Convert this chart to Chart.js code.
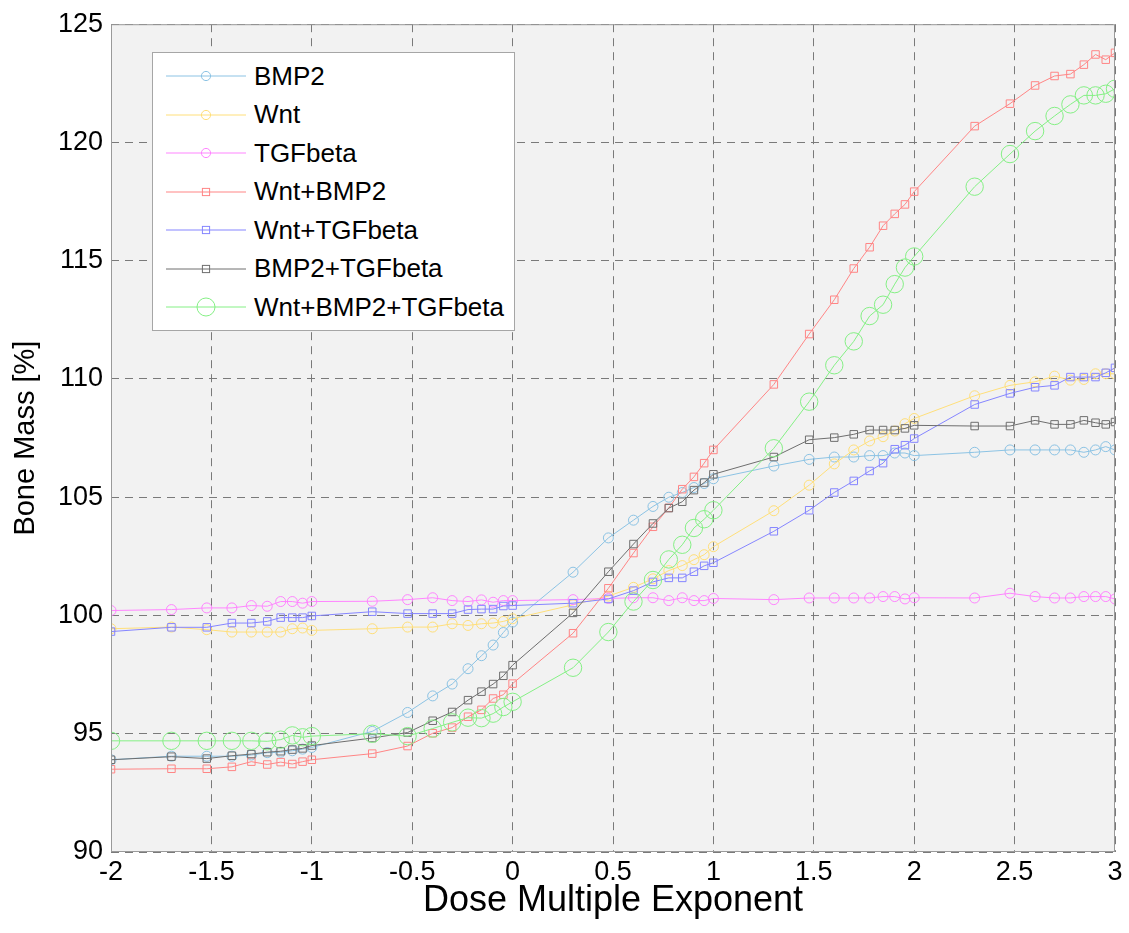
<!DOCTYPE html>
<html><head><meta charset="utf-8">
<script src="https://cdn.jsdelivr.net/npm/chart.js@4.4.1/dist/chart.umd.min.js"></script>
<style>
html,body{margin:0;padding:0;background:#fff;}
#wrap{position:relative;width:1129px;height:933px;}
#legend{position:absolute;left:152px;top:52px;width:363px;height:279px;background:#fff;border:1px solid #a6a6a6;box-sizing:border-box;font-family:"Liberation Sans",Arial,Helvetica,sans-serif;font-size:26px;color:#000;}
.row{position:absolute;left:0;height:38px;display:flex;align-items:center;white-space:nowrap;}
.row svg{display:block;margin-left:13px;margin-right:8px;}
</style></head>
<body><div id="wrap"><canvas id="c" width="1129" height="933"></canvas><div id="legend"></div></div>
<script>
const xExp = [-2, -1.699, -1.523, -1.398, -1.301, -1.222, -1.155, -1.097, -1.046, -1, -0.699, -0.523, -0.398, -0.301, -0.222, -0.155, -0.097, -0.046, 0, 0.301, 0.477, 0.602, 0.699, 0.778, 0.845, 0.903, 0.954, 1, 1.301, 1.477, 1.602, 1.699, 1.778, 1.845, 1.903, 1.954, 2, 2.301, 2.477, 2.602, 2.699, 2.778, 2.845, 2.903, 2.954, 3];

const bmp2 = [93.9, 94.05, 94.05, 94.05, 94.1, 94.2, 94.22, 94.28, 94.35, 94.42, 95.1, 95.9, 96.6, 97.1, 97.75, 98.3, 98.75, 99.28, 99.72, 101.83, 103.28, 104.03, 104.61, 105.0, 105.2, 105.41, 105.58, 105.78, 106.32, 106.6, 106.7, 106.7, 106.76, 106.76, 106.87, 106.87, 106.76, 106.9, 107.0, 107.0, 107.0, 107.0, 106.9, 107.0, 107.14, 107.0];
const wnt = [99.44, 99.51, 99.4, 99.3, 99.3, 99.3, 99.3, 99.44, 99.47, 99.37, 99.44, 99.51, 99.51, 99.65, 99.58, 99.65, 99.68, 99.75, 99.86, 100.45, 100.82, 101.19, 101.55, 101.9, 102.11, 102.36, 102.57, 102.91, 104.43, 105.51, 106.41, 107.0, 107.38, 107.56, 107.8, 108.11, 108.33, 109.29, 109.73, 109.88, 110.12, 109.95, 109.98, 110.22, 110.22, 110.22];
const tgfBeta = [100.21, 100.25, 100.32, 100.32, 100.42, 100.39, 100.59, 100.59, 100.52, 100.59, 100.6, 100.67, 100.75, 100.63, 100.59, 100.66, 100.56, 100.63, 100.63, 100.67, 100.72, 100.75, 100.75, 100.63, 100.75, 100.63, 100.63, 100.72, 100.67, 100.74, 100.74, 100.74, 100.74, 100.8, 100.8, 100.7, 100.75, 100.74, 100.94, 100.8, 100.74, 100.74, 100.8, 100.8, 100.8, 100.7];
const wntBmp2 = [93.5, 93.52, 93.52, 93.6, 93.82, 93.7, 93.8, 93.72, 93.82, 93.9, 94.16, 94.48, 95.02, 95.26, 95.72, 96.01, 96.49, 96.65, 97.12, 99.25, 101.15, 102.64, 103.75, 104.55, 105.34, 105.86, 106.44, 107.0, 109.77, 111.9, 113.35, 114.67, 115.57, 116.48, 116.98, 117.38, 117.92, 120.69, 121.64, 122.41, 122.81, 122.89, 123.29, 123.72, 123.5, 123.79];
const wntTgf = [99.32, 99.5, 99.5, 99.68, 99.68, 99.75, 99.91, 99.91, 99.91, 99.98, 100.16, 100.08, 100.08, 100.08, 100.25, 100.27, 100.27, 100.4, 100.42, 100.52, 100.7, 101.05, 101.42, 101.59, 101.59, 101.85, 102.1, 102.23, 103.56, 104.45, 105.2, 105.69, 106.11, 106.44, 107.03, 107.2, 107.48, 108.92, 109.39, 109.65, 109.73, 110.08, 110.08, 110.08, 110.26, 110.47];
const bmp2Tgf = [93.9, 94.03, 93.95, 94.07, 94.14, 94.22, 94.26, 94.33, 94.38, 94.5, 94.82, 95.05, 95.55, 95.92, 96.42, 96.78, 97.1, 97.45, 97.9, 100.11, 101.85, 103.02, 103.89, 104.54, 104.81, 105.3, 105.62, 105.97, 106.7, 107.43, 107.52, 107.66, 107.84, 107.84, 107.84, 107.91, 108.04, 108.01, 108.01, 108.25, 108.08, 108.08, 108.25, 108.15, 108.08, 108.18];
const wntBmp2Tgf = [94.7, 94.7, 94.7, 94.7, 94.7, 94.68, 94.75, 94.93, 94.85, 94.9, 95.0, 94.9, 95.22, 95.48, 95.68, 95.66, 95.85, 96.13, 96.35, 97.79, 99.3, 100.59, 101.5, 102.37, 102.99, 103.7, 104.07, 104.45, 107.07, 109.04, 110.58, 111.59, 112.66, 113.14, 114.01, 114.71, 115.18, 118.13, 119.51, 120.48, 121.12, 121.61, 121.99, 121.99, 122.06, 122.27];

const seriesNames = ['BMP2', 'Wnt', 'TGFbeta', 'Wnt+BMP2', 'Wnt+TGFbeta', 'BMP2+TGFbeta', 'Wnt+BMP2+TGFbeta'];
const seriesValues = [bmp2, wnt, tgfBeta, wntBmp2, wntTgf, bmp2Tgf, wntBmp2Tgf];
const xTicks = [-2, -1.5, -1, -0.5, 0, 0.5, 1, 1.5, 2, 2.5, 3];
const yTicks = [90, 95, 100, 105, 110, 115, 120, 125];

const colors = ['#8cc3e4', '#ffdf7a', '#ff85ff', '#ff8585', '#8585ff', '#6e6e6e', '#85f085'];
const markers = ['circle', 'circle', 'circle', 'rect', 'rect', 'rect', 'circle'];
const radii = [5, 5, 5, 5.3, 5.3, 5.3, 8.7];

const FONT = "'Liberation Sans', Arial, Helvetica, sans-serif";

const datasets = seriesValues.map((vals, i) => ({
  label: seriesNames[i],
  data: xExp.map((x, j) => ({x: x, y: vals[j]})),
  borderColor: colors[i],
  backgroundColor: 'rgba(0,0,0,0)',
  pointBorderColor: colors[i],
  pointBackgroundColor: 'rgba(0,0,0,0)',
  pointStyle: markers[i],
  pointRadius: radii[i],
  pointBorderWidth: 1,
  borderWidth: 1,
  tension: 0,
  order: seriesValues.length - i
}));

const areaPlugin = {
  id: 'area',
  beforeDraw(chart) {
    const {ctx, chartArea: a} = chart;
    ctx.save();
    ctx.fillStyle = '#f2f2f2';
    ctx.fillRect(a.left, a.top, a.right - a.left, a.bottom - a.top);
    ctx.restore();
  },
  afterDraw(chart) {
    const {ctx, chartArea: a} = chart;
    ctx.save();
    ctx.strokeStyle = '#9a9a9a';
    ctx.lineWidth = 1;
    ctx.strokeRect(a.left + 0.5, a.top + 0.5, a.right - a.left - 1, a.bottom - a.top - 1);
    ctx.restore();
  }
};

new Chart(document.getElementById('c'), {
  type: 'line',
  data: {datasets: datasets},
  plugins: [areaPlugin],
  options: {
    responsive: false,
    animation: false,
    layout: {padding: {top: 22, right: 14, left: 0, bottom: 0}},
    plugins: {legend: {display: false}, tooltip: {enabled: false}},
    scales: {
      x: {
        type: 'linear', min: -2, max: 3,
        afterBuildTicks(s) { s.ticks = xTicks.map(v => ({value: v})); },
        ticks: {callback: v => String(v), color: '#000', font: {family: FONT, size: 27}, padding: 4, maxRotation: 0, autoSkip: false},
        grid: {color: '#7a7a7a', lineWidth: 1, drawTicks: false},
        border: {display: false, dash: [8, 6]},
        title: {display: true, text: 'Dose Multiple Exponent', color: '#000', font: {family: FONT, size: 36}, padding: {top: 0, bottom: 10}},
        afterFit(s) { s.height = 81; }
      },
      y: {
        type: 'linear', min: 90, max: 125,
        afterBuildTicks(s) { s.ticks = yTicks.map(v => ({value: v})); },
        ticks: {callback: v => String(v), color: '#000', font: {family: FONT, size: 27}, padding: 8},
        grid: {color: '#7a7a7a', lineWidth: 1, drawTicks: false},
        border: {display: false, dash: [8, 6]},
        title: {display: true, text: 'Bone Mass [%]', color: '#000', font: {family: FONT, size: 29}, padding: {top: 9, bottom: 0}},
        afterFit(s) { s.width = 111; }
      }
    }
  }
});

// HTML legend
const leg = document.getElementById('legend');
seriesNames.forEach((name, i) => {
  const row = document.createElement('div');
  row.className = 'row';
  row.style.top = (23 + 38.5 * i - 19) + 'px';
  const r = markers[i] === 'rect' ? 3.6 : (i === 6 ? 9 : 4.6);
  let mk;
  if (markers[i] === 'rect') {
    mk = `<rect x="${40 - r}" y="${19 - r}" width="${2 * r}" height="${2 * r}" fill="none" stroke="${colors[i]}" stroke-width="1"/>`;
  } else {
    mk = `<circle cx="40" cy="19" r="${r}" fill="none" stroke="${colors[i]}" stroke-width="1"/>`;
  }
  row.innerHTML = `<svg width="80" height="38"><line x1="0" y1="19" x2="80" y2="19" stroke="${colors[i]}" stroke-width="1"/>${mk}</svg><span>${name}</span>`;
  leg.appendChild(row);
});
</script>
</body></html>
